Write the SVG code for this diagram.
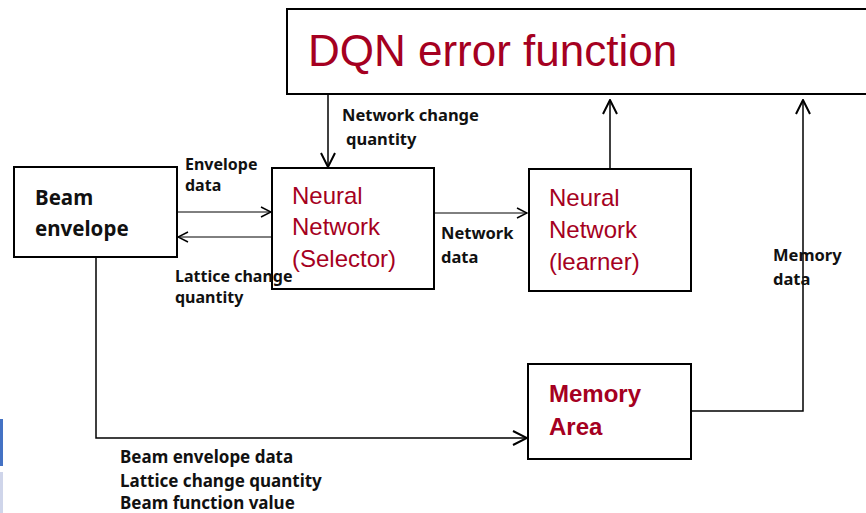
<svg xmlns="http://www.w3.org/2000/svg" width="866" height="513" viewBox="0 0 866 513">
<defs>
<style>
.box{fill:#fff;stroke:#000;stroke-width:2}
.red{font-family:"Liberation Sans",Arial,sans-serif;fill:#A50021;font-size:24px}
.redb{font-family:"Liberation Sans",Arial,sans-serif;fill:#A50021;font-size:24px;font-weight:bold}
.lbl{font-family:"Noto Sans",sans-serif;font-weight:bold;font-size:16.5px;fill:#111}
.sm{font-size:16px}
.bot{font-size:17px}
.big{font-family:"Noto Sans",sans-serif;font-weight:bold;font-size:20.5px;fill:#111}
.c{fill:none;stroke:#000;stroke-width:1.5}
.ct{fill:none;stroke:#000;stroke-width:1}
</style>
<marker id="ah" viewBox="0 0 12 12" refX="11" refY="6" markerWidth="12" markerHeight="12" markerUnits="userSpaceOnUse" orient="auto">
<path d="M1,1 L11,6 L1,11" fill="none" stroke="#000" stroke-width="1.5"/>
</marker>
<marker id="ah2" viewBox="0 0 16 16" refX="15" refY="8" markerWidth="16" markerHeight="16" markerUnits="userSpaceOnUse" orient="auto">
<path d="M1,1 L15,8 L1,15" fill="none" stroke="#000" stroke-width="2"/>
</marker>
</defs>
<rect width="866" height="513" fill="#fff"/>
<rect x="0" y="419" width="3" height="47" fill="#4472C4"/>
<rect x="0" y="472" width="3" height="41" fill="#CFD5EA"/>

<g id="connectors">
<line class="ct" x1="177" y1="212" x2="271" y2="212" marker-end="url(#ah)"/>
<line class="ct" x1="272" y1="237" x2="178" y2="237" marker-end="url(#ah)"/>
<line class="c" x1="328" y1="94" x2="328" y2="167" marker-end="url(#ah2)"/>
<line class="ct" x1="434" y1="213" x2="527" y2="213" marker-end="url(#ah)"/>
<line class="c" x1="610" y1="169" x2="610" y2="100" marker-end="url(#ah2)"/>
<polyline class="c" points="691,411 803,411 803,100" marker-end="url(#ah2)"/>
<polyline class="c" points="96,257 96,438 527,438" marker-end="url(#ah2)"/>
</g>

<g id="dqn">
<rect class="box" x="287" y="9" width="600" height="85"/>
<text x="308" y="66" font-family="'Liberation Sans',Arial,sans-serif" font-size="44" fill="#A50021">DQN error function</text>
</g>

<g id="beam">
<rect class="box" x="14" y="167" width="163" height="90"/>
<text class="big" x="35" y="205">Beam</text>
<text class="big" x="35" y="236">envelope</text>
</g>

<g id="selector">
<rect class="box" x="272" y="168" width="162" height="121"/>
<text class="red" x="292" y="204">Neural</text>
<text class="red" x="292" y="235">Network</text>
<text class="red" x="292" y="267">(Selector)</text>
</g>

<g id="learner">
<rect class="box" x="529" y="169" width="162" height="122"/>
<text class="red" x="549" y="206">Neural</text>
<text class="red" x="549" y="238">Network</text>
<text class="red" x="549" y="270">(learner)</text>
</g>

<g id="memory">
<rect class="box" x="528" y="364" width="163" height="95"/>
<text class="redb" x="549" y="402">Memory</text>
<text class="redb" x="549" y="435">Area</text>
</g>

<g id="labels">
<text class="lbl sm" x="185" y="170">Envelope</text>
<text class="lbl sm" x="185" y="191">data</text>
<text class="lbl sm" x="175" y="282">Lattice change</text>
<text class="lbl sm" x="175" y="303">quantity</text>
<text class="lbl" x="342" y="121">Network change</text>
<text class="lbl" x="346" y="145">quantity</text>
<text class="lbl" x="441" y="239">Network</text>
<text class="lbl" x="441" y="263">data</text>
<text class="lbl" x="773" y="261">Memory</text>
<text class="lbl" x="773" y="285">data</text>
<text class="lbl bot" x="120" y="463">Beam envelope data</text>
<text class="lbl bot" x="120" y="487">Lattice change quantity</text>
<text class="lbl bot" x="120" y="509">Beam function value</text>
</g>
</svg>
